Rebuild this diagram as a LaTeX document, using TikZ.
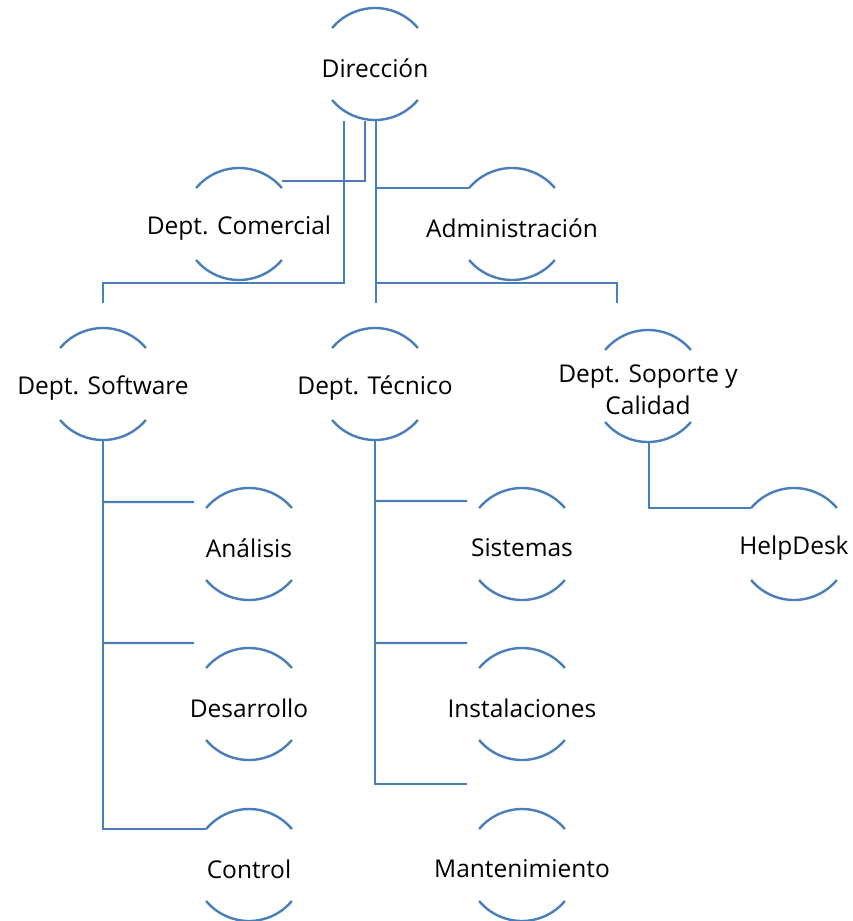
\documentclass[tikz,border=0pt]{standalone}
\usepackage{fontspec}
\setmainfont{Open Sans}
\usetikzlibrary{calc}
\definecolor{linkblue}{RGB}{74,126,187}
\begin{document}
\begin{tikzpicture}[x=1pt,y=1pt,
  orgnode/.style={circle,draw=none,minimum size=112pt,inner sep=0pt,outer sep=0pt},
  orgtext/.style={font=\fontsize{24.5}{32}\selectfont,text=black,align=center,yshift=-4pt},
  arcline/.style={draw=linkblue,line width=2.4pt},
  link/.style={draw=linkblue,line width=2.4pt}]
\useasboundingbox (0,0) rectangle (853,-921);
\node[orgnode,label={[orgtext]center:Dirección}] (dir) at (375,-64) {};
\node[orgnode,label={[orgtext]center:Dept. Comercial}] (com) at (239,-224) {};
\node[orgnode,label={[orgtext]center:Administración}] (adm) at (512,-224) {};
\node[orgnode,label={[orgtext]center:Dept. Software}] (sw) at (103,-384) {};
\node[orgnode,label={[orgtext]center:Dept. Técnico}] (tec) at (375,-384) {};
\node[orgnode,label={[orgtext]center:{Dept. Soporte y\\Calidad}}] (sop) at (648,-386) {};
\node[orgnode,label={[orgtext]center:Análisis}] (ana) at (249,-544) {};
\node[orgnode,label={[orgtext]center:Desarrollo}] (des) at (249,-704) {};
\node[orgnode,label={[orgtext]center:Control}] (ctl) at (249,-865) {};
\node[orgnode,label={[orgtext]center:Sistemas}] (sis) at (522,-544) {};
\node[orgnode,label={[orgtext]center:Instalaciones}] (ins) at (522,-704) {};
\node[orgnode,label={[orgtext]center:Mantenimiento}] (man) at (522,-865) {};
\node[orgnode,label={[orgtext]center:HelpDesk}] (hd) at (794,-544) {};
\foreach \n in {dir,com,adm,sw,tec,sop,ana,des,ctl,sis,ins,man,hd}{
  \draw[arcline] (\n.40) arc (40:140:56);
  \draw[arcline] (\n.220) arc (220:320:56);
}
% Direccion connectors
\draw[link] ($(dir.south)+(-10,-1)$) |- ($(com.40)+(0,7)$);
\draw[link] ($(dir.south)+(1,-1)$) |- (adm.140);
\draw[link] ($(dir.south)+(1,-1)$) -- ($(tec.north)+(1,25)$);
\draw[link] ($(dir.south)+(-31,-1)$) |- ($(sw.north)+(0,45)$) -- ($(sw.north)+(0,25)$);
\draw[link] ($(dir.south)+(1,-1)$) |- ($(sop.north)+(-31,47)$) -- ($(sop.north)+(-31,27)$);
% Software
\draw[link] (sw.south) |- (ctl.140);
\draw[link] ($(sw.south)+(0,-62)$) -- ($(ana.140)+(-12,6)$);
\draw[link] ($(sw.south)+(0,-203)$) -- ($(des.140)+(-12,25)$);
% Tecnico
\draw[link] (tec.south) |- ($(man.140)+(-12,45)$);
\draw[link] ($(tec.south)+(0,-61)$) -- ($(sis.140)+(-12,7)$);
\draw[link] ($(tec.south)+(0,-203)$) -- ($(ins.140)+(-12,25)$);
% Soporte
\draw[link] ($(sop.south)+(1,0)$) |- (hd.140);
\end{tikzpicture}
\end{document}
